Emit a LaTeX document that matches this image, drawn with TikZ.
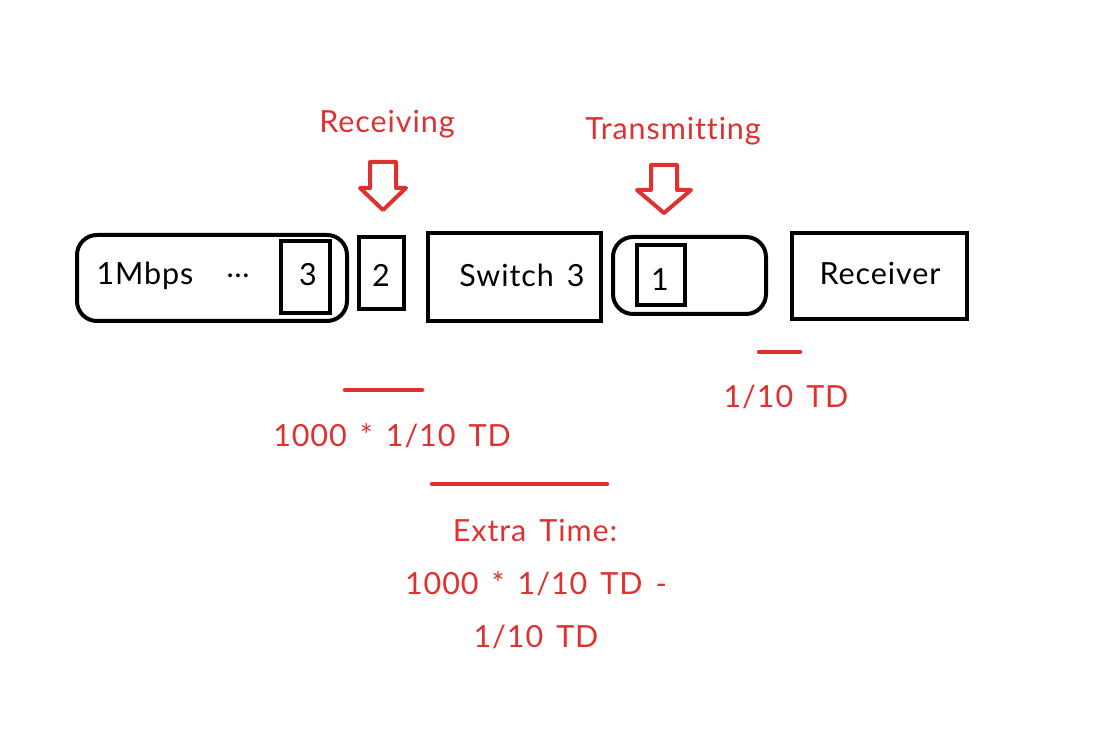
\documentclass[tikz,border=0pt]{standalone}
\usepackage{fontspec}
\setmainfont{Lato}[LetterSpace=3,WordSpace=1.5,Ligatures={NoCommon}]
\definecolor{myred}{HTML}{E03131}
\begin{document}
\begin{tikzpicture}[x=1pt,y=-1pt,
  box/.style={draw=black,line width=4pt,inner sep=0pt},
  rbox/.style={box,rounded corners=20pt},
  lbl/.style={font=\fontsize{30.5}{34}\selectfont,inner sep=0pt},
  rlbl/.style={lbl,text=myred},
  rline/.style={draw=myred,line width=4.5pt,line cap=round},
  bigarrow/.style={draw=myred,line width=4pt,line join=round,fill=white}]
\useasboundingbox[fill=white] (0,0) rectangle (1106,743);
% boxes
\node[rbox,minimum width=270pt,minimum height=86pt] (queue) at (212,278) {};
\node[box,minimum width=49pt,minimum height=72pt] (p3) at (305.5,277) {};
\node[box,minimum width=45pt,minimum height=72pt] (p2) at (381.5,273) {};
\node[box,minimum width=173pt,minimum height=88pt] (sw) at (514.5,277) {};
\node[rbox,minimum width=153pt,minimum height=77pt] (link) at (689.5,275.5) {};
\node[box,minimum width=48pt,minimum height=60pt] (p1) at (661,275) {};
\node[box,minimum width=175pt,minimum height=86pt] (rcv) at (879.5,276) {};
% black labels
\node[lbl] (t1m) at (145,276) {1Mbps};
\node[lbl] (tdots) at (238,276) {\ldots};
\node[lbl] (t3) at (308,275) {3};
\node[lbl] (t2) at (381,275) {2};
\node[lbl] (tsw) at (522,275) {Switch 3};
\node[lbl] (t1) at (660,280) {1};
\node[lbl] (trcv) at (880,273) {Receiver};
% red labels
\node[rlbl] (recv) at (387,124) {Receiving};
\node[rlbl] (trans) at (673,131) {Transmitting};
% hollow arrows
\draw[bigarrow] (370,162) -- (396,162) -- (396,188) -- (406,188) -- (383,210) -- (360,188) -- (370,188) -- cycle;
\draw[bigarrow] (651,165) -- (677,165) -- (677,190) -- (691,190) -- (664,213) -- (637,190) -- (651,190) -- cycle;
% timing lines
\coordinate (a1) at (345,390); \coordinate (a2) at (422,390);
\coordinate (b1) at (759,352); \coordinate (b2) at (800,352);
\coordinate (c1) at (432,484); \coordinate (c2) at (607,484);
\draw[rline] (a1) -- (a2);
\draw[rline] (b1) -- (b2);
\draw[rline] (c1) -- (c2);
\node[rlbl] (ta) at (392,436) {1000 * 1/10 TD};
\node[rlbl] (tb) at (786,397) {1/10 TD};
\node[rlbl] (tc1) at (535,530) {Extra Time:};
\node[rlbl] (tc2) at (536,584) {1000 * 1/10 TD -};
\node[rlbl] (tc3) at (536,637) {1/10 TD};
\end{tikzpicture}
\end{document}
